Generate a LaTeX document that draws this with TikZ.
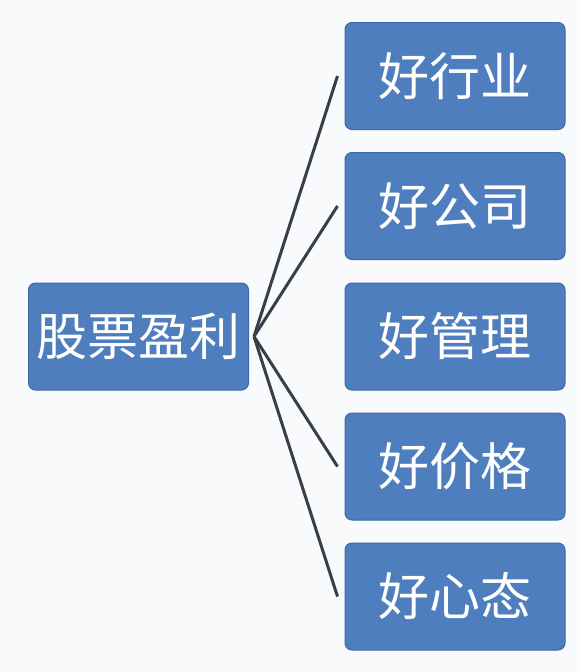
\documentclass[tikz,border=0pt]{standalone}
\usepackage{fontspec}
\newfontfamily\cjk{Noto Sans CJK SC}
\definecolor{boxblue}{RGB}{79,126,190}
\definecolor{boxedge}{RGB}{62,104,166}
\definecolor{linegray}{RGB}{58,62,72}
\definecolor{paper}{RGB}{248,250,252}
\begin{document}
\begin{tikzpicture}[x=1pt,y=-1pt,
  box/.style={draw=boxedge, line width=1pt, fill=boxblue, rounded corners=7pt,
    minimum width=220pt, minimum height=107pt, text=white, inner sep=0pt,
    font=\cjk\fontsize{51}{55}\selectfont},
  link/.style={draw=linegray, line width=3pt}]
  \fill[paper] (0,0) rectangle (580,672);
  \useasboundingbox (0,0) rectangle (580,672);
  \node[box] (src) at (138.5,336.5) {股票盈利};
  \foreach \name/\txt/\y in {b1/好行业/76, b2/好公司/206, b3/好管理/336.5,
      b4/好价格/466.5, b5/好心态/596.5}
    \node[box] (\name) at (455,\y) {\txt};
  \coordinate (hub) at ([xshift=5pt]src.east);
  \foreach \name in {b1,b2,b4,b5}
    \draw[link] (hub) -- ([xshift=-7pt]\name.west);
\end{tikzpicture}
\end{document}
